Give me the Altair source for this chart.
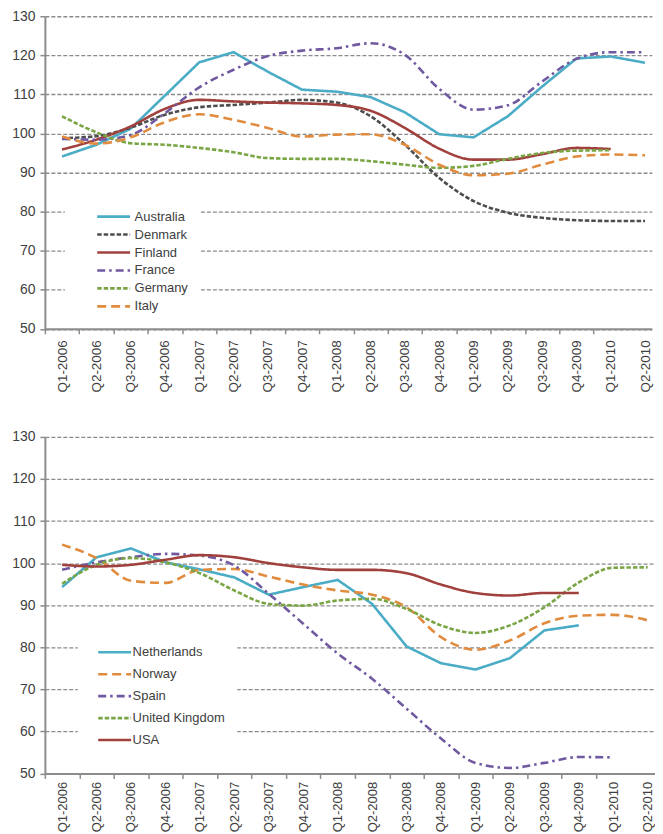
import altair as alt
import pandas as pd

quarters = ["Q1-2006", "Q2-2006", "Q3-2006", "Q4-2006", "Q1-2007", "Q2-2007",
            "Q3-2007", "Q4-2007", "Q1-2008", "Q2-2008", "Q3-2008", "Q4-2008",
            "Q1-2009", "Q2-2009", "Q3-2009", "Q4-2009", "Q1-2010", "Q2-2010"]
y_ticks = [50, 60, 70, 80, 90, 100, 110, 120, 130]

# ---- top panel ----
top_series = ["Australia", "Denmark", "Finland", "France", "Germany", "Italy"]
australia = [94.1, 97.1, 101.2, 109.7, 118.2, 120.8, 115.8, 111.2, 110.7, 109.3, 105.4, 99.8, 99.0, 104.4, 112.0, 119.2, 119.7, 118.1]
denmark = [98.8, 99.3, 101.5, 104.8, 106.7, 107.3, 107.9, 108.6, 107.9, 104.4, 97.1, 88.6, 82.7, 79.7, 78.4, 77.8, 77.6, 77.6]
finland = [95.9, 98.4, 101.8, 106.3, 108.6, 108.2, 107.9, 107.7, 107.3, 105.8, 101.4, 96.1, 93.3, 93.3, 94.7, 96.3, 96.0, None]
france = [98.6, 98.4, 99.6, 105.2, 111.8, 116.3, 119.8, 121.2, 121.8, 123.1, 120.1, 111.4, 106.1, 107.2, 113.3, 119.1, 120.8, 120.8]
germany = [104.4, 100.3, 97.5, 97.1, 96.3, 95.2, 93.7, 93.5, 93.5, 92.9, 92.0, 91.2, 91.7, 93.5, 95.0, 95.6, 95.7, None]
italy = [99.2, 97.4, 99.0, 102.9, 104.9, 103.5, 101.4, 99.2, 99.7, 99.8, 97.1, 92.0, 89.3, 89.7, 92.0, 94.1, 94.6, 94.4]

# ---- bottom panel ----
bottom_series = ["Netherlands", "Norway", "Spain", "United Kingdom", "USA"]
netherlands = [94.3, 101.4, 103.5, 100.2, 98.5, 96.6, 92.5, 94.3, 96.0, 90.3, 80.2, 76.2, 74.7, 77.4, 84.0, 85.2, None, None]
norway = [104.4, 101.2, 95.8, 95.3, 98.4, 98.6, 96.8, 94.9, 93.5, 92.5, 89.5, 82.4, 79.4, 81.6, 85.7, 87.5, 87.7, 86.4]
spain = [98.4, 100.2, 101.4, 102.2, 101.8, 99.4, 92.7, 85.6, 78.5, 72.5, 65.4, 58.3, 52.5, 51.3, 52.5, 53.9, 53.8, None]
uk = [95.1, 99.6, 101.2, 100.2, 97.6, 93.5, 90.3, 89.9, 91.1, 91.5, 89.1, 85.2, 83.4, 85.2, 89.5, 95.4, 98.9, 99.0]
usa = [99.6, 99.2, 99.6, 100.8, 101.9, 101.4, 100.0, 99.0, 98.4, 98.4, 97.6, 94.9, 92.9, 92.3, 92.9, 92.9, None, None]

CYAN, GRAY, RED, PURPLE, GREEN, ORANGE = "#4bacc6", "#4d4d4d", "#a0413e", "#7059a0", "#7aa545", "#e08b3e"
SOLID, SHORT, LONG, DASHDOT = [1, 0], [4.5, 2], [9, 5], [8, 4, 2.5, 4]

top_colors = [CYAN, GRAY, RED, PURPLE, GREEN, ORANGE]
top_dashes = [SOLID, SHORT, SOLID, DASHDOT, SHORT, LONG]
bottom_colors = [CYAN, ORANGE, PURPLE, GREEN, RED]
bottom_dashes = [SOLID, LONG, DASHDOT, SHORT, SOLID]

FONT = "Liberation Sans"
TXT = "#404040"
AX = "#8c8c8c"


def long_df(names, arrays):
    rows = []
    for n, arr in zip(names, arrays):
        for i, v in enumerate(arr):
            if v is not None:
                rows.append({"series": n, "idx": i, "value": v})
    return pd.DataFrame(rows)


def panel(df, names, colors, dashes, linear_names, width, height, xmax,
          leg_x, leg_y, clip_h, sym_off, lab_off, nbsp, title_size, xlab_pad, xlab_size):
    xscale = alt.Scale(domain=[-0.5, xmax], nice=False, zero=False)
    yaxis = alt.Axis(values=y_ticks, grid=True, gridDash=[4, 2], gridColor="#8a8a8a",
                     gridWidth=1.3, domainColor=AX, domainWidth=2, tickColor=AX,
                     tickWidth=1.5, tickSize=5, labelPadding=5, labelFont=FONT,
                     labelFontSize=14, labelColor=TXT,
                     title="\u00a0" if title_size else None,
                     titleFontSize=title_size if title_size else 4, titlePadding=0)
    legend = alt.Legend(orient="none", legendX=leg_x, legendY=leg_y, title=None,
                        fillColor="white", padding=12, symbolSize=1089,
                        symbolStrokeWidth=2.6, clipHeight=clip_h, rowPadding=2,
                        symbolOffset=sym_off, labelOffset=lab_off, labelFont=FONT,
                        labelFontSize=13, labelColor=TXT,
                        labelExpr="datum.label + '" + "\u00a0" * nbsp + "'")
    color = alt.Color("series:N", scale=alt.Scale(domain=names, range=colors),
                      legend=legend, sort=names)
    dash = alt.StrokeDash("series:N", scale=alt.Scale(domain=names, range=dashes),
                          legend=legend, sort=names)
    tick_axis = alt.Axis(values=[i - 0.5 for i in range(len(quarters) - 1)], labels=False,
                         grid=False, ticks=True, tickSize=5, tickColor=AX, tickWidth=1.5,
                         domain=True, domainColor=AX, domainWidth=2, title=None,
                         orient="bottom")
    label_axis = alt.Axis(values=list(range(len(quarters))), ticks=False, tickSize=0,
                          domain=False, grid=False, title=None, orient="bottom",
                          labelAngle=270, labelPadding=xlab_pad, labelFont=FONT,
                          labelFontSize=xlab_size, labelColor=TXT,
                          labelExpr=str(quarters) + "[datum.value]")
    y = alt.Y("value:Q", scale=alt.Scale(domain=[50, 130], nice=False, zero=False), axis=yaxis)
    base = alt.Chart(df)
    lin = base.transform_filter(
        alt.FieldOneOfPredicate(field="series", oneOf=linear_names)
    ).mark_line(strokeWidth=2.6, interpolate="linear").encode(
        x=alt.X("idx:Q", scale=xscale, axis=tick_axis), y=y, color=color, strokeDash=dash)
    smooth = base.transform_filter(
        ~alt.FieldOneOfPredicate(field="series", oneOf=linear_names)
    ).mark_line(strokeWidth=2.6, interpolate="monotone").encode(
        x=alt.X("idx:Q", scale=xscale, axis=None), y=y, color=color, strokeDash=dash)
    labels = base.mark_point(opacity=0).encode(
        x=alt.X("idx:Q", scale=xscale, axis=label_axis))
    return alt.layer(lin, smooth, labels).resolve_axis(x="independent").properties(
        width=width, height=height)


top_df = long_df(top_series, [australia, denmark, finland, france, germany, italy])
bottom_df = long_df(bottom_series, [netherlands, norway, spain, uk, usa])

top = panel(top_df, top_series, top_colors, top_dashes, ["Australia"],
            608.8, 313.5, 17.198, 20, 181, 16, 19, 3, 3, 2.4, 11, 13.5)
bottom = panel(bottom_df, bottom_series, bottom_colors, bottom_dashes, ["Netherlands"],
               612, 337.5, 17.213, 33, 194, 20, 7, 0, 2, 0, 8, 13)

chart = alt.concat(top, bottom, columns=1, spacing=37, align="none").resolve_scale(
    x="independent", y="independent", color="independent", strokeDash="independent"
).resolve_legend(color="independent", strokeDash="independent").properties(
    padding={"left": 0, "top": 0, "right": 0, "bottom": 0}
).configure_view(stroke=None).configure_axis(
    labelFont=FONT
)

chart.save("out.html", embed_options={"renderer": "svg", "actions": False})
